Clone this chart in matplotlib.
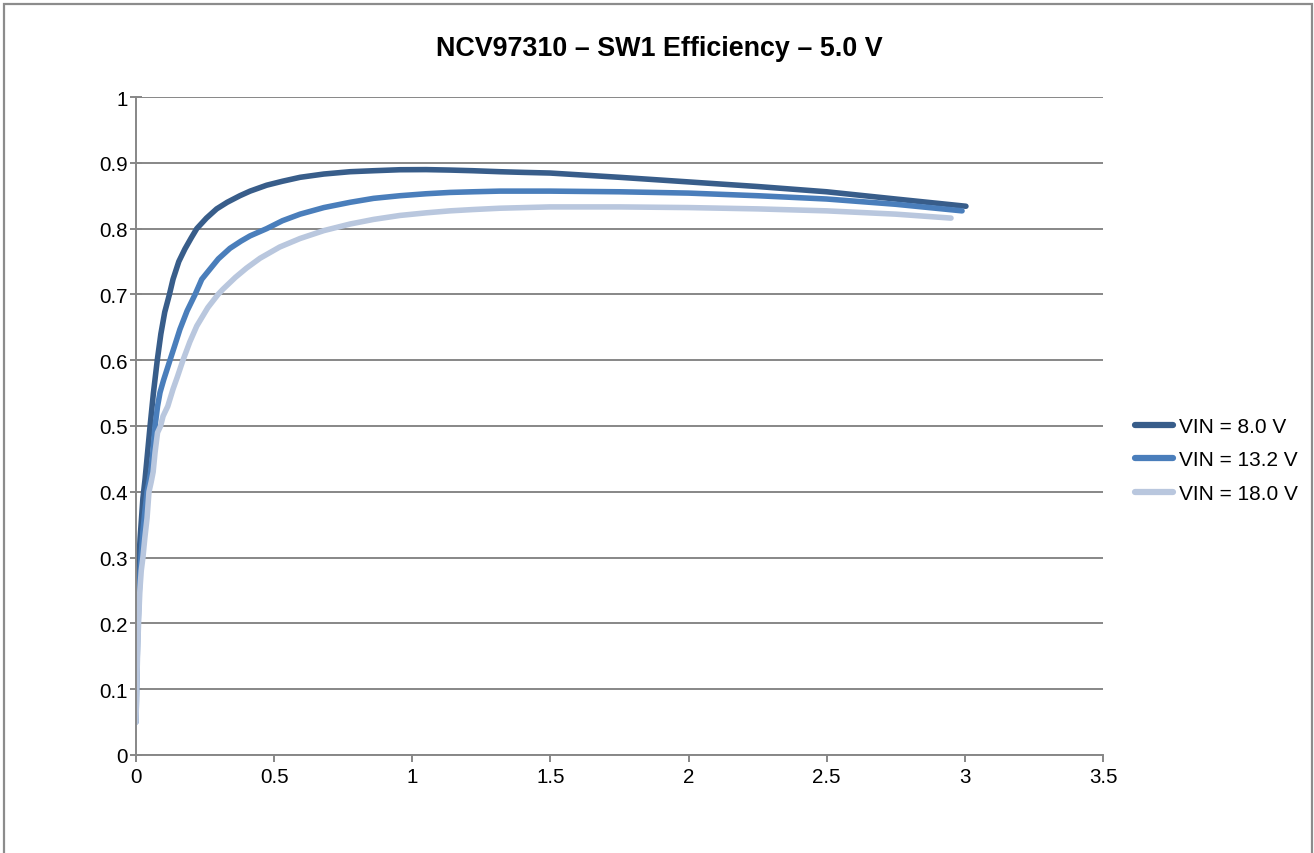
# efficiency curves of the NCV97310 SW1 output (5.0 V)
import matplotlib
matplotlib.use("Agg")
import matplotlib.pyplot as plt
from matplotlib.patches import Rectangle

plt.rcParams["font.family"] = ["Liberation Sans", "DejaVu Sans"]

# load current (A) and efficiency
x_8v0 = [0.0, 0.004, 0.008, 0.011, 0.015, 0.02, 0.025, 0.033, 0.042, 0.051,
         0.063, 0.077, 0.09, 0.104, 0.121, 0.134, 0.155, 0.177, 0.20, 0.22,
         0.255, 0.292, 0.33, 0.376, 0.413, 0.473, 0.53, 0.594, 0.68, 0.775,
         0.86, 0.955, 1.05, 1.136, 1.22, 1.317, 1.40, 1.498, 1.75, 2.0, 2.25,
         2.5, 2.75, 3.004]
eff_8v0 = [0.21, 0.25, 0.28, 0.30, 0.33, 0.36, 0.39, 0.42, 0.46, 0.50,
           0.55, 0.60, 0.64, 0.673, 0.70, 0.723, 0.75, 0.769, 0.786, 0.80,
           0.816, 0.83, 0.84, 0.85, 0.857, 0.866, 0.872, 0.878, 0.883, 0.8865,
           0.888, 0.8895, 0.8897, 0.889, 0.888, 0.8865, 0.8855, 0.8845, 0.878, 0.871, 0.864,
           0.856, 0.845, 0.834]

x_13v2 = [0.0, 0.003, 0.006, 0.01, 0.014, 0.018, 0.025, 0.032, 0.04, 0.047,
          0.053, 0.061, 0.069, 0.078, 0.087, 0.10, 0.123, 0.14, 0.159, 0.185,
          0.214, 0.238, 0.265, 0.298, 0.34, 0.38, 0.413, 0.473, 0.53, 0.594,
          0.68, 0.775, 0.86, 0.955, 1.05, 1.136, 1.22, 1.317, 1.498, 1.75,
          2.0, 2.25, 2.5, 2.75, 2.99]
eff_13v2 = [0.05, 0.12, 0.18, 0.23, 0.27, 0.30, 0.34, 0.37, 0.40, 0.415,
            0.43, 0.46, 0.50, 0.53, 0.551, 0.57, 0.60, 0.622, 0.647, 0.675,
            0.70, 0.723, 0.737, 0.754, 0.77, 0.781, 0.789, 0.80, 0.812, 0.822,
            0.832, 0.840, 0.846, 0.850, 0.853, 0.855, 0.856, 0.857, 0.857, 0.856,
            0.854, 0.85, 0.845, 0.837, 0.827]

x_18v0 = [0.0, 0.003, 0.006, 0.01, 0.014, 0.019, 0.025, 0.032, 0.04, 0.047,
          0.055, 0.062, 0.069, 0.078, 0.089, 0.098, 0.115, 0.134, 0.15, 0.17,
          0.195, 0.22, 0.26, 0.297, 0.315, 0.36, 0.40, 0.449, 0.52, 0.594,
          0.68, 0.775, 0.86, 0.955, 1.05, 1.136, 1.22, 1.317, 1.498, 1.75,
          2.0, 2.25, 2.5, 2.75, 2.95]
eff_18v0 = [0.05, 0.11, 0.16, 0.21, 0.25, 0.28, 0.30, 0.33, 0.36, 0.40,
            0.415, 0.43, 0.46, 0.49, 0.50, 0.515, 0.53, 0.556, 0.575, 0.60,
            0.628, 0.652, 0.68, 0.70, 0.708, 0.726, 0.74, 0.755, 0.772, 0.785,
            0.797, 0.807, 0.814, 0.82, 0.824, 0.827, 0.829, 0.831, 0.833, 0.833,
            0.832, 0.83, 0.827, 0.822, 0.816]

labels = ["VIN = 8.0 V", "VIN = 13.2 V", "VIN = 18.0 V"]
colors = ["#385D8A", "#4A7EBB", "#B9C7DE"]

fig = plt.figure(figsize=(13.14, 8.54), dpi=100)
ax = fig.add_axes([0.1035, 0.1148, 0.7359, 0.7704])

series = [(x_8v0, eff_8v0), (x_13v2, eff_13v2), (x_18v0, eff_18v0)]
for (xs, ys), lab, col in zip(series, labels, colors):
    ax.plot(xs, ys, color=col, lw=4.0, label=lab,
            solid_capstyle="round", solid_joinstyle="round")

ax.set_xlim(0, 3.5)
ax.set_ylim(0, 1)
ax.set_xticks([0, 0.5, 1, 1.5, 2, 2.5, 3, 3.5])
ax.set_xticklabels(["0", "0.5", "1", "1.5", "2", "2.5", "3", "3.5"])
ax.set_yticks([i / 10 for i in range(11)])
ax.set_yticklabels(["0", "0.1", "0.2", "0.3", "0.4", "0.5", "0.6", "0.7", "0.8", "0.9", "1"])
ax.grid(axis="y", color="#878787", lw=1.4)
ax.set_axisbelow(True)
for s in ["top", "right"]:
    ax.spines[s].set_visible(False)
for s in ["left", "bottom"]:
    ax.spines[s].set_color("#878787")
    ax.spines[s].set_linewidth(1.4)
ax.tick_params(axis="y", direction="inout", length=8, width=1.4, color="#878787",
               labelsize=14.8, pad=2)
ax.tick_params(axis="x", direction="out", length=5, width=1.4, color="#878787",
               labelsize=14.8, pad=4)

fig.text(0.502, 0.943, "NCV97310 \u2013 SW1 Efficiency \u2013 5.0 V",
         ha="center", va="center", fontsize=19.35, fontweight="bold")

leg = fig.legend(loc="center left", bbox_to_anchor=(0.8638, 0.4602), frameon=False,
                 fontsize=15, handlelength=1.83, handletextpad=0.3,
                 labelspacing=0.69, borderpad=0, borderaxespad=0)
for h in leg.get_lines():
    h.set_linewidth(4.5)

# chart area border
fig.patches.append(Rectangle((4 / 1314, -0.1), 1308 / 1314, 1.1 - 5 / 854,
                             transform=fig.transFigure, fill=False,
                             edgecolor="#8c8c8c", lw=1.6))

plt.savefig("out.png", dpi=100)
